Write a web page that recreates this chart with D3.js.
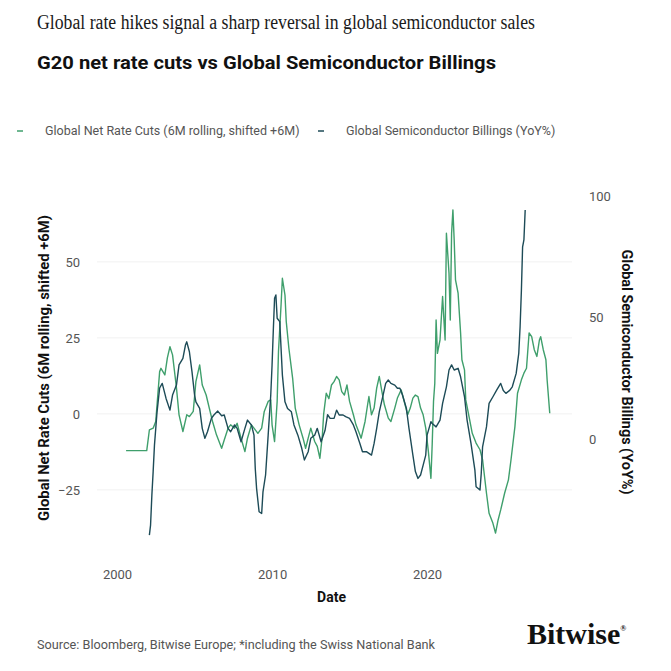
<!DOCTYPE html>
<html>
<head>
<meta charset="utf-8">
<script src="https://cdn.jsdelivr.net/npm/d3@7"></script>
<style>
  body { margin: 0; background: #fff; }
  svg { display: block; }
</style>
</head>
<body>
<div id="chart"></div>
<script>
// Global Net Rate Cuts (6M rolling, shifted +6M) - left axis
var cutDates = [
  "2000-08","2001-12","2002-02","2002-05","2002-07","2002-10","2002-11","2003-02","2003-04","2003-06",
  "2003-08","2003-11","2004-01","2004-04","2004-07","2004-09","2004-12","2005-02","2005-05","2005-07",
  "2005-10","2006-01","2006-03","2006-06","2006-10","2006-12","2007-03","2007-05","2007-08","2007-10",
  "2008-01","2008-04","2008-06","2008-09","2008-11","2009-02","2009-05","2009-07","2009-10","2009-12",
  "2010-01","2010-03","2010-05","2010-06","2010-08","2010-09","2010-11","2010-12","2011-02","2011-05",
  "2011-07","2011-10","2012-01","2012-03","2012-05","2012-07","2012-10","2012-12","2013-02","2013-04",
  "2013-05","2013-07","2013-09","2013-11","2014-01","2014-03","2014-05","2014-07","2014-09","2014-11",
  "2015-01","2015-04","2015-06","2015-09","2015-10","2016-01","2016-03","2016-04","2016-06","2016-08",
  "2016-10","2016-12","2017-02","2017-04","2017-07","2017-09","2017-12","2018-02","2018-05","2018-08",
  "2018-10","2018-12","2019-02","2019-04","2019-06","2019-08","2019-10","2019-12","2020-02","2020-04",
  "2020-05","2020-06","2020-07","2020-08","2020-09","2020-11","2021-01","2021-02","2021-03","2021-04",
  "2021-06","2021-07","2021-08","2021-09","2021-10","2021-11","2022-01","2022-03","2022-04","2022-06",
  "2022-07","2022-10","2022-12","2023-03","2023-06","2023-08","2023-11","2024-01","2024-04","2024-06",
  "2024-08","2024-10","2025-01","2025-04","2025-06","2025-09","2025-11","2026-02","2026-04","2026-06",
  "2026-08","2026-10","2026-12","2027-02","2027-04","2027-05","2027-07","2027-09","2027-10","2027-12"
];
var cutValues = [
  -12.1,-12.1,-5.3,-4.7,-2.5,13.9,15,12.8,18.4,22.1,
  19.4,8.6,-0.3,-5.8,-0.3,-0.9,0.8,10.6,16.1,9.5,
  6.2,0.8,-2.5,-6.9,-11.3,-8.6,-4.7,-3.6,-4.7,-3.1,
  -8,-12.4,-8,-3.6,-4.7,-6.4,-4.7,0.8,4.1,4.6,
  -3.6,-9.1,4.1,20.5,35.9,44.6,39.1,30.4,21.6,11.7,
  1.9,-3.6,-8,-11.3,-8,-4.7,-9.1,-10.7,-14.6,-6.9,
  0,6.8,5,9.5,10.6,12.3,11.2,7.3,6.2,9.5,
  4.1,-0.3,-3.6,-6.9,-8,-2.5,3,5.7,-0.3,1.9,
  8.5,12.3,7.3,3,-1.4,-2.5,1.9,5.2,7.9,3,
  -0.3,1.9,5.2,6.2,5.7,1.9,-0.3,-4.7,-12.4,-21.2,
  -10,4.1,10,30.9,19.9,24.3,38.6,31,24.3,59.4,
  46.3,30.9,59.4,67.1,57.2,44.1,39.7,26.6,17.8,14.5,
  4.6,-2,-6.4,-9.6,-11.8,-15.1,-26.1,-32.7,-36,-39.2,
  -34.9,-31.6,-26.1,-21.7,-15.1,-4.2,6.8,11.2,13.4,15,
  26.6,25.4,21.1,18.9,24.3,25.4,21.1,17.8,11,0.2
];

// Global Semiconductor Billings (YoY%) - right axis
var semiDates = [
  "2002-02","2002-03","2002-04","2002-05","2002-06","2002-08","2002-10","2002-12","2003-03","2003-06",
  "2003-08","2003-11","2004-01","2004-04","2004-06","2004-07","2004-09","2004-11","2005-01","2005-02",
  "2005-05","2005-07","2005-09","2005-11","2006-02","2006-04","2006-07","2006-10","2006-12","2007-03",
  "2007-05","2007-08","2007-10","2008-01","2008-04","2008-06","2008-09","2008-11","2008-12","2009-01",
  "2009-03","2009-05","2009-06","2009-08","2009-10","2009-12","2010-01","2010-02","2010-03","2010-04",
  "2010-05","2010-07","2010-08","2010-09","2010-11","2011-01","2011-04","2011-06","2011-09","2011-12",
  "2012-02","2012-05","2012-07","2012-10","2012-12","2013-03","2013-06","2013-08","2013-10","2014-01",
  "2014-03","2014-05","2014-08","2014-10","2015-01","2015-04","2015-06","2015-09","2015-11","2016-02",
  "2016-04","2016-06","2016-08","2016-10","2016-12","2017-03","2017-05","2017-07","2017-09","2017-12",
  "2018-02","2018-04","2018-06","2018-09","2018-11","2019-02","2019-04","2019-06","2019-08","2019-10",
  "2019-12","2020-01","2020-04","2020-05","2020-08","2020-11","2021-01","2021-04","2021-06","2021-08",
  "2021-10","2022-01","2022-03","2022-06","2022-08","2022-11","2023-02","2023-03","2023-06","2023-07",
  "2023-08","2023-11","2024-01","2024-04","2024-07","2024-10","2024-12","2025-02","2025-05","2025-07",
  "2025-10","2025-11","2025-12","2026-01","2026-02","2026-03","2026-04","2026-05"
];
var semiValues = [
  -39.5,-35.4,-23,-13.4,-2.5,11.2,21,22.9,16.7,11.9,
  18.1,22.2,30.5,33.2,38.7,40,35.9,27.7,18.1,15.3,
  12.6,4.4,0.3,3,8.5,9.9,11.5,9.6,9.9,4.4,
  3,5.8,4.4,-1.1,4.4,7.8,5.8,1.6,-12.1,-20.3,
  -29.9,-30.6,-21.7,-14.8,1.6,18.1,30.5,45.6,57.9,59.3,
  49.7,48.3,37.3,26.3,15.3,12.6,11.2,5.8,1.6,-3.8,
  -8.6,-5.2,0.3,1.6,4.4,-1.1,3.5,10,8.5,8.5,
  11.9,9.9,9.9,9.2,8.5,5.8,3,-1.8,-5.2,-5.2,
  -5.9,-6.6,-1.8,4.4,11.2,18.1,22.9,24.3,22.9,22.2,
  20.9,20.9,18.1,12.6,4.4,-6.6,-13.4,-16.2,-14.8,-10.7,
  -6.6,1.6,7.1,6.4,5,7.8,14.7,21.5,28.4,30.5,
  28.4,29.1,25.6,17.4,7.8,-1.8,-12.8,-19.6,-21,-14.1,
  -3.2,5,14.7,17.4,20.2,22.9,20,18.8,20,21.5,
  27,31.2,35.3,46.2,61.3,79.1,81.9,94.2
];

var xTicks = ["2000-01","2010-01","2020-01"];
var leftTicks = [-25, 0, 25, 50];
var rightTicks = [0, 50, 100];

var cutColor = "#3f9f6c",
    semiColor = "#1d4b57",
    textGrey = "#555";

var W = 671, H = 671;
var plot = {left: 97, right: 572, top: 195, bottom: 537};

var parse = d3.timeParse("%Y-%m");

var svg = d3.select("#chart").append("svg")
  .attr("width", W)
  .attr("height", H)
  .style("font-family", "Roboto, 'Liberation Sans', sans-serif");

var x = d3.scaleTime()
  .domain([new Date(1998, 8, 16), new Date(2029, 4, 8)])
  .range([plot.left, plot.right]);

var yLeft = d3.scaleLinear()
  .domain([-40.5, 72])
  .range([plot.bottom, plot.top]);

var yRight = d3.scaleLinear()
  .domain([-40.3, 100.4])
  .range([plot.bottom, plot.top]);

// titles
svg.append("text")
  .attr("x", 37).attr("y", 29)
  .attr("textLength", 498).attr("lengthAdjust", "spacingAndGlyphs")
  .style("font-family", "'Liberation Serif', 'DejaVu Serif', serif")
  .style("font-size", "20px")
  .attr("fill", "#1a1a1a")
  .text("Global rate hikes signal a sharp reversal in global semiconductor sales");

svg.append("text")
  .attr("x", 37).attr("y", 69)
  .attr("textLength", 459).attr("lengthAdjust", "spacingAndGlyphs")
  .style("font-size", "19px").style("font-weight", "bold")
  .attr("fill", "#111")
  .text("G20 net rate cuts vs Global Semiconductor Billings");

// legend
var legendItems = [
  {label: "Global Net Rate Cuts (6M rolling, shifted +6M)", color: cutColor, x: 17},
  {label: "Global Semiconductor Billings (YoY%)", color: semiColor, x: 318}
];
var legend = svg.append("g").attr("class", "legend");
legendItems.forEach(function(d) {
  legend.append("line")
    .attr("x1", d.x).attr("x2", d.x + 6)
    .attr("y1", 131).attr("y2", 131)
    .attr("stroke", d.color).attr("stroke-opacity", 0.75).attr("stroke-width", 2);
  legend.append("text")
    .attr("x", d.x + 28).attr("y", 135)
    .style("font-size", "12.5px")
    .attr("fill", textGrey)
    .text(d.label);
});

// gridlines (left axis)
svg.append("g").selectAll("line")
  .data(leftTicks)
  .enter().append("line")
  .attr("x1", plot.left).attr("x2", plot.right)
  .attr("y1", function(d) { return yLeft(d); })
  .attr("y2", function(d) { return yLeft(d); })
  .attr("stroke", "#f1f1f1").attr("stroke-width", 1);

// axes
var axisLeft = d3.axisLeft(yLeft).tickValues(leftTicks).tickSize(0).tickPadding(17);
var gL = svg.append("g").attr("transform", "translate(" + plot.left + ",0)").call(axisLeft);

var axisRight = d3.axisRight(yRight).tickValues(rightTicks).tickSize(0).tickPadding(17);
var gR = svg.append("g").attr("transform", "translate(" + plot.right + ",0)").call(axisRight);

var axisBottom = d3.axisBottom(x)
  .tickValues(xTicks.map(parse))
  .tickFormat(d3.timeFormat("%Y"))
  .tickSize(0).tickPadding(33);
var gB = svg.append("g").attr("transform", "translate(0," + plot.bottom + ")").call(axisBottom);

[gL, gR, gB].forEach(function(g) {
  g.select(".domain").remove();
  g.selectAll("text")
    .style("font-family", "Roboto, 'Liberation Sans', sans-serif")
    .style("font-size", "13px")
    .attr("fill", textGrey);
});

// axis titles
svg.append("text")
  .attr("transform", "translate(49," + ((plot.top + plot.bottom) / 2 + 2) + ")rotate(-90)")
  .attr("text-anchor", "middle")
  .attr("textLength", 306).attr("lengthAdjust", "spacingAndGlyphs")
  .style("font-size", "14px").style("font-weight", "bold")
  .attr("fill", "#111")
  .text("Global Net Rate Cuts (6M rolling, shifted +6M)");

svg.append("text")
  .attr("transform", "translate(622," + ((plot.top + plot.bottom) / 2 + 6) + ")rotate(90)")
  .attr("text-anchor", "middle")
  .attr("textLength", 245).attr("lengthAdjust", "spacingAndGlyphs")
  .style("font-size", "14px").style("font-weight", "bold")
  .attr("fill", "#111")
  .text("Global Semiconductor Billings (YoY%)");

svg.append("text")
  .attr("x", (plot.left + plot.right) / 2 - 3).attr("y", 602)
  .attr("text-anchor", "middle")
  .style("font-size", "14px").style("font-weight", "bold")
  .attr("fill", "#111")
  .text("Date");

// series
var cutData = cutDates.map(function(d, i) { return {date: parse(d), value: cutValues[i]}; });
var semiData = semiDates.map(function(d, i) { return {date: parse(d), value: semiValues[i]}; });

var lineLeft = d3.line()
  .x(function(d) { return x(d.date); })
  .y(function(d) { return yLeft(d.value); });

var lineRight = d3.line()
  .x(function(d) { return x(d.date); })
  .y(function(d) { return yRight(d.value); });

svg.append("path")
  .datum(cutData)
  .attr("fill", "none")
  .attr("stroke", cutColor)
  .attr("stroke-width", 1.4)
  .attr("stroke-linejoin", "round")
  .attr("d", lineLeft);

svg.append("path")
  .datum(semiData)
  .attr("fill", "none")
  .attr("stroke", semiColor)
  .attr("stroke-width", 1.4)
  .attr("stroke-linejoin", "round")
  .attr("d", lineRight);

// footer
svg.append("text")
  .attr("x", 37).attr("y", 649)
  .attr("textLength", 398).attr("lengthAdjust", "spacingAndGlyphs")
  .style("font-size", "12.8px")
  .attr("fill", textGrey)
  .text("Source: Bloomberg, Bitwise Europe; *including the Swiss National Bank");

var logo = svg.append("text")
  .attr("x", 527).attr("y", 644)
  .style("font-family", "'Liberation Serif', 'DejaVu Serif', serif")
  .style("font-size", "30px").style("font-weight", "bold")
  .attr("fill", "#111")
  .text("Bitwise");
logo.append("tspan")
  .attr("dy", -13)
  .style("font-size", "8px")
  .text("®");
</script>
</body>
</html>
